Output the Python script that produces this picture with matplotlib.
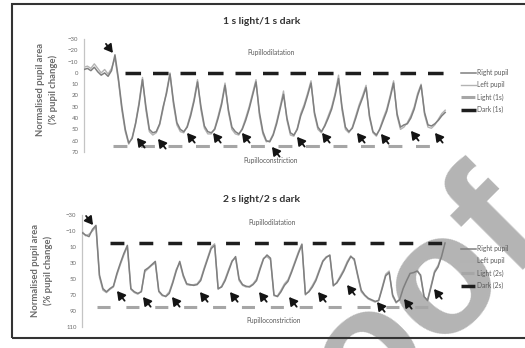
import numpy as np
import matplotlib
matplotlib.use("Agg")
import matplotlib.pyplot as plt
from matplotlib.patches import Rectangle

plt.rcParams['font.family'] = ['Lato', 'DejaVu Sans']
plt.rcParams['lines.scale_dashes'] = False

# ---------------- data: 1 s light / 1 s dark (sampled every 0.25 s) ----------------
STEP_1S = 0.25
right_1s = [-3, -4, -2, -5, -1, 2, 0, 3, -2, -16, 5, 30, 50, 62, 58, 45, 28, 6, 30, 50,
            53, 52, 45, 30, 18, 1, 25, 44, 50, 52, 48, 38, 25, 8, 30, 47, 52, 53, 50, 40,
            28, 11, 33, 48, 52, 54, 50, 42, 32, 20, 8, 35, 52, 60, 61, 55, 45, 32, 19, 40,
            53, 55, 50, 38, 30, 20, 9, 35, 48, 52, 47, 40, 32, 20, 5, 30, 48, 52, 49, 40,
            30, 22, 13, 38, 52, 55, 50, 42, 34, 22, 9, 36, 48, 46, 45, 40, 32, 20, 11, 35,
            46, 47, 45, 42, 38, 35]
left_1s = [-5, -6, -4, -8, -4, 0, -3, 1, -4, -13, 7, 33, 52, 63, 57, 44, 26, 4, 33, 52,
           55, 53, 46, 32, 16, 0, 28, 46, 52, 53, 47, 36, 23, 6, 33, 49, 54, 54, 49, 38,
           26, 9, 35, 50, 54, 55, 49, 40, 30, 18, 6, 38, 54, 61, 60, 54, 43, 30, 16, 42,
           55, 56, 49, 36, 28, 18, 7, 37, 50, 53, 46, 38, 30, 18, 2, 33, 50, 53, 48, 38,
           28, 20, 11, 40, 53, 56, 49, 40, 32, 20, 7, 38, 50, 48, 44, 38, 30, 18, 10, 37,
           48, 49, 46, 41, 36, 33]
dark_level_1s, dark_span_1s = 0, (3.0, 26.2)
light_level_1s, light_span_1s = 65, (2.1, 25.3)
# arrow tips (time s, % change)
onset_arrow_1s = (2.1, -17.7)
arrows_1s_t = [3.85, 5.38, 7.49, 9.38, 11.48, 13.66, 15.48, 17.3, 19.84, 21.58, 23.76, 25.51]
arrows_1s_v = [57.5, 58.4, 53.1, 53.1, 53.1, 65.5, 56.6, 53.1, 53.1, 54.0, 51.3, 53.1]
yticks_1s = [-30, -20, -10, 0, 10, 20, 30, 40, 50, 60, 70]

# ---------------- data: 2 s light / 2 s dark (sampled every 0.5 s) ----------------
STEP_2S = 0.5
right_2s = [-8, -5, -3, -12, -17, 45, 62, 66, 62, 59, 43, 30, 18, 8, 62, 66, 68, 66, 39, 36,
            32, 28, 65, 70, 72, 68, 55, 40, 28, 45, 56, 57, 58, 57, 52, 38, 25, 12, 8, 62,
            60, 52, 40, 28, 22, 50, 57, 59, 60, 57, 52, 38, 25, 20, 24, 70, 72, 66, 58, 53,
            42, 30, 18, 7, 69, 66, 60, 52, 40, 28, 23, 20, 58, 55, 48, 40, 30, 22, 25, 45,
            64, 70, 74, 76, 78, 77, 62, 46, 42, 70, 79, 76, 62, 52, 43, 42, 40, 45, 72, 77,
            60, 42, 35, 22, 5]
left_2s = [-10, -4, -6, -10, -15, 48, 64, 67, 63, 60, 45, 32, 20, 10, 63, 67, 69, 65, 41, 37,
           33, 30, 66, 71, 71, 66, 53, 38, 30, 47, 57, 58, 57, 56, 50, 36, 23, 10, 6, 63,
           59, 50, 38, 27, 24, 52, 58, 60, 59, 56, 50, 36, 24, 22, 26, 71, 71, 64, 56, 51,
           40, 28, 16, 6, 70, 65, 58, 50, 38, 27, 22, 21, 59, 54, 46, 38, 28, 21, 27, 47,
           66, 71, 75, 77, 79, 76, 60, 44, 40, 72, 80, 75, 60, 50, 41, 40, 38, 47, 73, 76,
           58, 40, 33, 20, 3]
dark_level_2s, dark_span_2s = 5, (4.0, 52.0)
light_level_2s, light_span_2s = 85, (2.15, 50.1)
onset_arrow_2s = (1.58, -17.5)
arrows_2s_t = [5.01, 8.74, 12.89, 16.9, 21.2, 25.36, 29.66, 33.81, 37.97, 42.26, 46.13, 50.43]
arrows_2s_v = [65, 72.5, 72.5, 66.3, 66.3, 66.3, 72.5, 66.3, 57.5, 78.8, 75, 62.5]
yticks_2s = [-30, -10, 10, 30, 50, 70, 90, 110]

W, H = 525, 348
fig = plt.figure(figsize=(W / 100, H / 100), dpi=100)
fig.patch.set_facecolor('white')


def fx(px):
    return px / W


def fy(py):
    return 1 - py / H


RIGHT_C, LEFT_C = '#7f7f7f', '#b3b3b3'
DARK_C, LIGHT_C = '#1e1e1e', '#a6a6a6'
TXT_C = '#5a5a5a'


def panel(rect, xlim, ylim, yticks, step, right, left, dark_level, dark_span, dark_dash,
          light_level, light_span, light_dash, onset, ats, avs, light_lbl, dark_lbl, leg_top):
    ax = fig.add_axes(rect)
    ax.set_facecolor('none')
    t_r = np.arange(len(right)) * step
    t_l = np.arange(len(left)) * step
    hr, = ax.plot(t_r, right, color=RIGHT_C, lw=1.1, label='Right pupil', zorder=3)
    hl, = ax.plot(t_l, left, color=LEFT_C, lw=1.0, label='Left pupil', zorder=2)
    hli, = ax.plot(light_span, [light_level, light_level], color=LIGHT_C, lw=2.2,
                   dashes=light_dash, label=light_lbl, zorder=2)
    hd, = ax.plot(dark_span, [dark_level, dark_level], color=DARK_C, lw=2.5,
                  dashes=dark_dash, label=dark_lbl, zorder=2)
    ax.set_xlim(*xlim)
    ax.set_ylim(*ylim)
    ax.set_yticks(yticks)
    ax.set_xticks([])
    for s in ('top', 'right', 'bottom'):
        ax.spines[s].set_visible(False)
    ax.spines['left'].set_color('#c4c4c4')
    ax.spines['left'].set_linewidth(0.9)
    ax.tick_params(axis='y', length=0, pad=4, labelsize=4.3, labelcolor='#6a6a6a')

    arrow_kw = dict(arrowstyle='-|>,head_length=0.6,head_width=0.35', color='#141414',
                    lw=1.3, shrinkA=0, shrinkB=0, mutation_scale=8)
    ax.annotate('', xy=onset, xytext=(-5, 6.5), textcoords='offset points',
                arrowprops=arrow_kw, zorder=5)
    for t, v in zip(ats, avs):
        ax.annotate('', xy=(t, v), xytext=(5.5, -7), textcoords='offset points',
                    arrowprops=arrow_kw, zorder=5)

    ax.legend(handles=[hr, hl, hli, hd], loc='upper left', frameon=False,
              bbox_to_anchor=(fx(461), fy(leg_top)), bbox_transform=fig.transFigure,
              fontsize=4.8, labelcolor=TXT_C, handlelength=2.2, handletextpad=0.15,
              labelspacing=0.78, borderpad=0, borderaxespad=0)
    return ax


panel([fx(84), fy(152), fx(450) - fx(84), fy(39) - fy(152)], (0, 26.6), (70, -30), yticks_1s,
      STEP_1S, right_1s, left_1s, dark_level_1s, dark_span_1s, (11.2, 8.6),
      light_level_1s, light_span_1s, (10.0, 9.8), onset_arrow_1s, arrows_1s_t, arrows_1s_v,
      'Light (1s)', 'Dark (1s)', 69)
panel([fx(82), fy(327), fx(452) - fx(82), fy(215) - fy(327)], (0, 53), (110, -30), yticks_2s,
      STEP_2S, right_2s, left_2s, dark_level_2s, dark_span_2s, (10.0, 10.8),
      light_level_2s, light_span_2s, (9.4, 11.4), onset_arrow_2s, arrows_2s_t, arrows_2s_v,
      'Light (2s)', 'Dark (2s)', 245)

# titles and annotations
fig.text(fx(262), fy(22), '1 s light/1 s dark', ha='center', va='center',
         fontsize=7.5, fontweight='bold', color='#333333')
fig.text(fx(262), fy(199), '2 s light/2 s dark', ha='center', va='center',
         fontsize=7.5, fontweight='bold', color='#333333')
for x, y, s in [(271, 53, 'Pupillodilatation'), (271, 160, 'Pupilloconstriction'),
                (272, 223, 'Pupillodilatation'), (274, 321, 'Pupilloconstriction')]:
    fig.text(fx(x), fy(y), s, ha='center', va='center', fontsize=4.8, color=TXT_C)

ylab = 'Normalised pupil area\n(% pupil change)'
fig.text(fx(47), fy(89), ylab, rotation=90, ha='center', va='center', fontsize=6.8,
         fontweight='bold', color='#6a6a6a', linespacing=1.45)
fig.text(fx(42), fy(270), ylab, rotation=90, ha='center', va='center', fontsize=6.8,
         fontweight='bold', color='#6a6a6a', linespacing=1.45)

# proof watermark behind the plots
fig.text(fx(549), fy(233), 'Proof', rotation=45, rotation_mode='anchor', ha='right',
         va='baseline', fontsize=122, fontweight='bold', color='#b4b4b4',
         family='Liberation Sans', zorder=-1)

# outer frame
fig.add_artist(Rectangle((fx(12), fy(338)), fx(535) - fx(12), fy(4) - fy(338),
                         transform=fig.transFigure, fill=False, ec='#333333', lw=1.5,
                         zorder=10))

fig.savefig('out.png', dpi=100, facecolor='white')
